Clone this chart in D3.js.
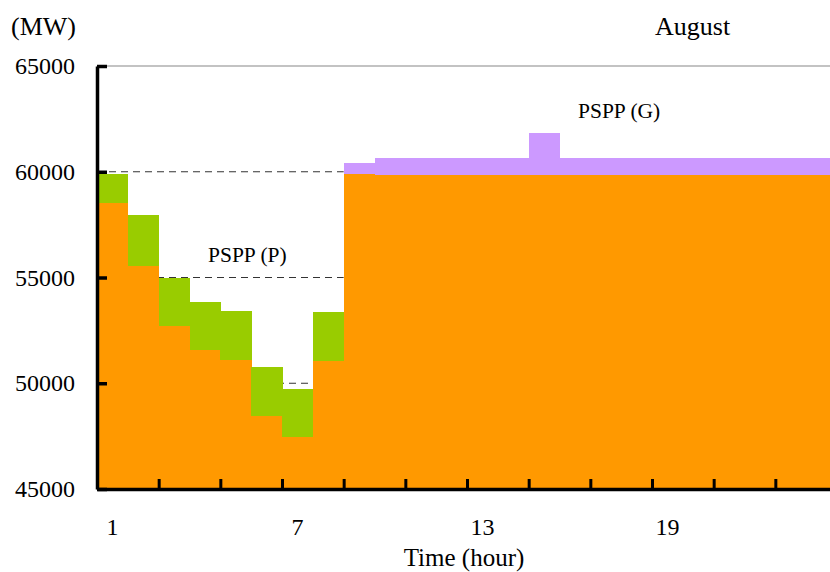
<!DOCTYPE html>
<html>
<body style="margin:0">
<div id="chart"></div>
<script src="https://d3js.org/d3.v7.min.js"></script>
<style>
text { font-family: "Liberation Serif", "Times New Roman", serif; fill: #000; }
</style>
<script>
// hourly load (MW)
var hours = d3.range(1, 25);
var baseLoad = [58500, 55550, 52700, 51550, 51100, 48450, 47450, 51050,
  59900, 59850, 59850, 59850, 59850, 59850, 59850, 59850,
  59850, 59850, 59850, 59850, 59850, 59850, 59850, 59850];
var pumping = [1400, 2400, 2300, 2300, 2300, 2300, 2300, 2300,
  0, 0, 0, 0, 0, 0, 0, 0, 0, 0, 0, 0, 0, 0, 0, 0];
var generation = [0, 0, 0, 0, 0, 0, 0, 0,
  500, 800, 800, 800, 800, 800, 2000, 800,
  800, 800, 800, 800, 800, 800, 800, 800];
var yTicks = [45000, 50000, 55000, 60000, 65000];
var xLabels = [1, 7, 13, 19];
var refLines = [50000, 55000, 60000];

var width = 830, height = 572;
var svg = d3.select("#chart").append("svg")
  .attr("width", width).attr("height", height);

var x = d3.scaleLinear().domain([0, 24]).range([97, 837]);
var y = d3.scaleLinear().domain([45000, 65000]).range([489, 66]);

var rows = hours.map(function(h, i) {
  return { h: h, base: baseLoad[i], p: pumping[i], g: generation[i] };
});

// dashed reference lines (behind the bars)
svg.selectAll(".ref").data(refLines).enter().append("line")
  .attr("x1", x(0)).attr("x2", x(8))
  .attr("y1", function(d) { return y(d); })
  .attr("y2", function(d) { return y(d); })
  .attr("stroke", "#333").attr("stroke-width", 1)
  .attr("stroke-dasharray", "7,5");

// top frame line
svg.append("line")
  .attr("x1", x(0)).attr("x2", width)
  .attr("y1", y(65000)).attr("y2", y(65000))
  .attr("stroke", "#888").attr("stroke-width", 1.2);

var g = svg.append("g").attr("shape-rendering", "crispEdges");

g.selectAll(".base").data(rows).enter().append("rect")
  .attr("x", function(d) { return x(d.h - 1); })
  .attr("width", function(d) { return x(d.h) - x(d.h - 1) + 0.5; })
  .attr("y", function(d) { return y(d.base); })
  .attr("height", function(d) { return y(45000) - y(d.base); })
  .attr("fill", "#FF9900");

g.selectAll(".pump").data(rows.filter(function(d) { return d.p > 0; })).enter().append("rect")
  .attr("x", function(d) { return x(d.h - 1); })
  .attr("width", function(d) { return x(d.h) - x(d.h - 1) + 0.5; })
  .attr("y", function(d) { return y(d.base + d.p); })
  .attr("height", function(d) { return y(d.base) - y(d.base + d.p); })
  .attr("fill", "#99CC00");

g.selectAll(".gen").data(rows.filter(function(d) { return d.g > 0; })).enter().append("rect")
  .attr("x", function(d) { return x(d.h - 1); })
  .attr("width", function(d) { return x(d.h) - x(d.h - 1) + 0.5; })
  .attr("y", function(d) { return y(d.base + d.g); })
  .attr("height", function(d) { return y(d.base) - y(d.base + d.g); })
  .attr("fill", "#CC99FF");

// y axis
var yAxis = svg.append("g").attr("transform", "translate(" + x(0) + ",0)")
  .call(d3.axisLeft(y).tickValues(yTicks).tickSizeInner(-10).tickSizeOuter(0)
    .tickPadding(22).tickFormat(d3.format("d")));
yAxis.select(".domain").attr("stroke-width", 3.5);
yAxis.selectAll(".tick line").attr("stroke-width", 3.5);
yAxis.selectAll("text").style("font-size", "24px").attr("font-family", null);

// x axis (ticks every two hours)
var xAxis = svg.append("g").attr("transform", "translate(0," + y(45000) + ")")
  .call(d3.axisBottom(x).tickValues(d3.range(0, 25, 2)).tickSizeInner(-10)
    .tickSizeOuter(0).tickFormat(""));
xAxis.select(".domain").attr("stroke-width", 3.5);
xAxis.selectAll(".tick line").attr("stroke-width", 3);

svg.selectAll(".xl").data(xLabels).enter().append("text")
  .attr("x", function(d) { return x(d - 0.5); })
  .attr("y", 535)
  .attr("text-anchor", "middle")
  .style("font-size", "24px")
  .text(function(d) { return d; });

svg.append("text").attr("x", 464).attr("y", 566).attr("text-anchor", "middle")
  .style("font-size", "25px").text("Time (hour)");
svg.append("text").attr("x", 11).attr("y", 35)
  .style("font-size", "26px").text("(MW)");
svg.append("text").attr("x", 655).attr("y", 35)
  .style("font-size", "26px").text("August");
svg.append("text").attr("x", 578).attr("y", 118)
  .style("font-size", "21.5px").text("PSPP (G)");
svg.append("text").attr("x", 208).attr("y", 262)
  .style("font-size", "21.5px").text("PSPP (P)");
</script>
</body>
</html>
